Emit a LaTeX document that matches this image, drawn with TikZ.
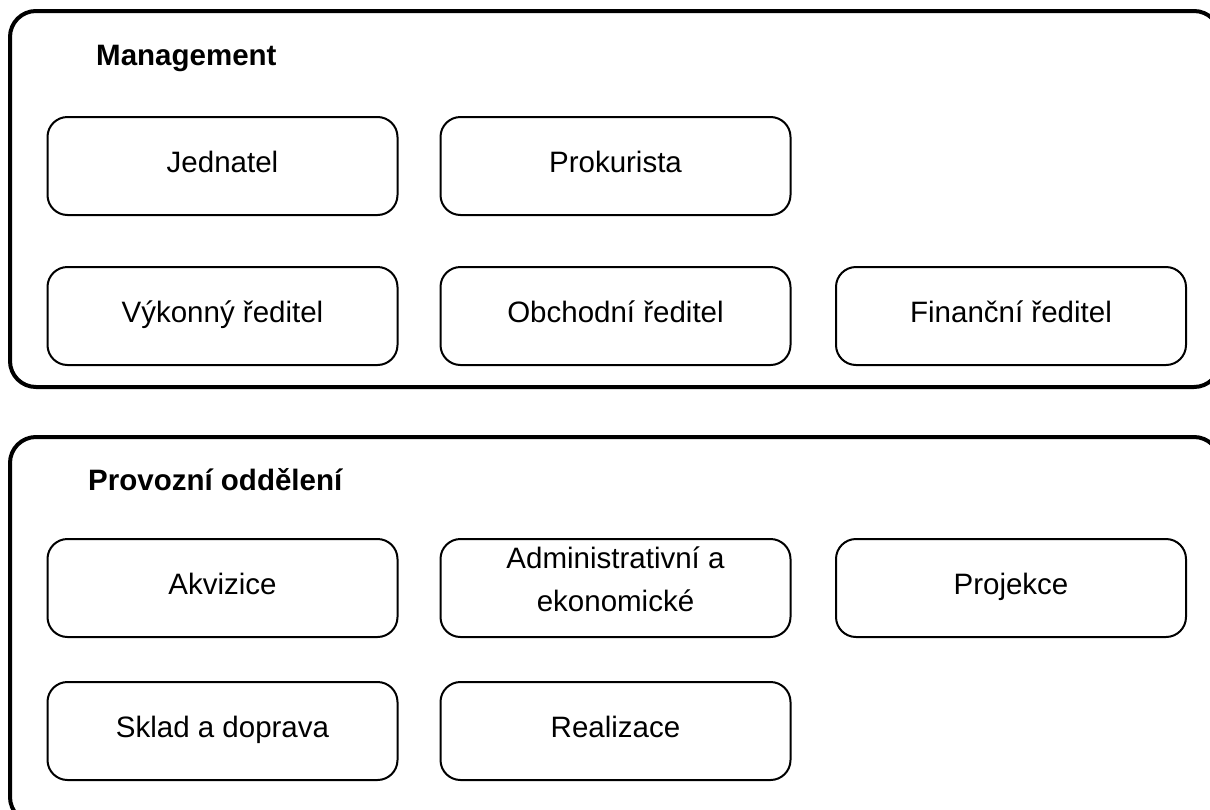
\documentclass[tikz,border=0pt]{standalone}
\usepackage{fontspec}
\setmainfont{Liberation Sans}
\begin{document}
\begin{tikzpicture}[x=1pt,y=-1pt,
  groupbox/.style={draw, line width=4pt, rounded corners=26pt, minimum width=1210pt, inner sep=0pt},
  unitbase/.style={draw, line width=2pt, rounded corners=20pt, minimum width=350pt, minimum height=98pt,
    inner sep=0pt, align=center, font=\fontsize{29.5}{43}\selectfont},
  unitbox/.style={unitbase, text height=21pt, text depth=9pt},
  grouptitle/.style={anchor=base west, inner sep=0pt, font=\fontsize{29.5}{34}\selectfont\bfseries}]
\useasboundingbox (0,0) rectangle (1210,809);
\clip (0,0) rectangle (1210,809);

% group containers
\node (mgmt) [groupbox, minimum height=376pt] at (615,199) {};
\node (prov) [groupbox, minimum height=386pt] at (615,630) {};

\node (mgmtT) [grouptitle] at (96,65) {Management};
\node (provT) [grouptitle] at (88,490) {Provozní oddělení};

% management
\node (jed)  [unitbox] at (222.5,166) {Jednatel};
\node (prok) [unitbox] at (615.5,166) {Prokurista};
\node (vyk)  [unitbox] at (222.5,316) {Výkonný ředitel};
\node (obch) [unitbox] at (615.5,316) {Obchodní ředitel};
\node (fin)  [unitbox] at (1011,316) {Finanční ředitel};

% operations
\node (akv)  [unitbox] at (222.5,588) {Akvizice};
\node (adm)  [unitbase, text depth=18pt] at (615.5,588) {Administrativní a\\ekonomické};
\node (proj) [unitbox] at (1011,588) {Projekce};
\node (skl)  [unitbox] at (222.5,731) {Sklad a doprava};
\node (real) [unitbox] at (615.5,731) {Realizace};
\end{tikzpicture}
\end{document}
